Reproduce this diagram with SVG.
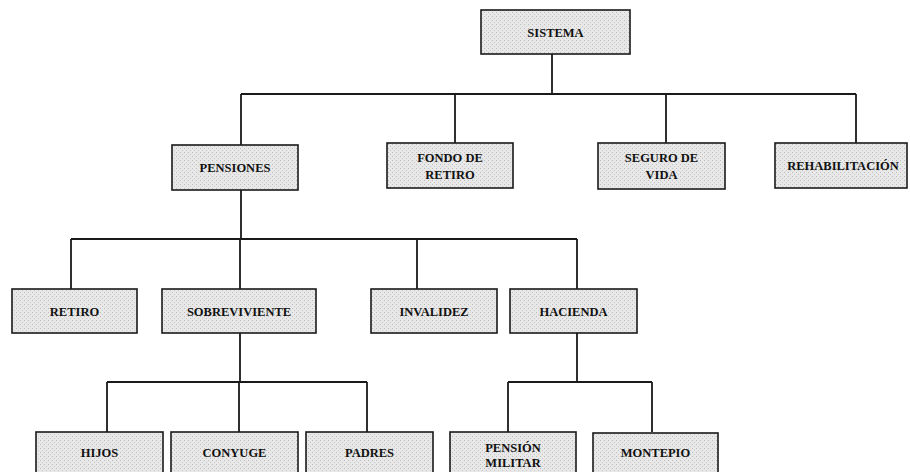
<svg xmlns="http://www.w3.org/2000/svg" width="910" height="472" viewBox="0 0 910 472">
<defs>
<pattern id="stip" width="4" height="4" patternUnits="userSpaceOnUse">
<rect width="4" height="4" fill="#e8e8e8"/>
<rect x="0" y="0" width="1" height="1" fill="#bcbcbc"/>
<rect x="2" y="2" width="1" height="1" fill="#c8c8c8"/>
</pattern>
</defs>
<style>
.box{fill:url(#stip);stroke:#1a1a1a;stroke-width:1.6}
.lbl{font-family:"Liberation Serif","Times New Roman",serif;font-weight:bold;font-size:12.5px;fill:#111;text-anchor:middle}
.conn{fill:none;stroke:#1a1a1a;stroke-width:1.8}
</style>
<rect width="910" height="472" fill="#ffffff"/>
<g id="connectors">
<path class="conn" d="M552 54V94M241 94H856M241 94V145M455 94V143M666 94V143M856 94V143"/>
<path class="conn" d="M241 190V239M71 239H577M71 239V289M240 239V289M417 239V289M577 239V289"/>
<path class="conn" d="M240 333V382M107 382H367M107 382V432M239 382V432M367 382V432"/>
<path class="conn" d="M577 333V382M508 382H652M508 382V432M652 382V432"/>
</g>
<g id="sistema"><rect class="box" x="481" y="10" width="149" height="44"/><text class="lbl" x="555.5" y="37">SISTEMA</text></g>
<g id="pensiones"><rect class="box" x="172" y="145" width="126" height="45"/><text class="lbl" x="235" y="172">PENSIONES</text></g>
<g id="fondo"><rect class="box" x="387" y="143" width="126" height="45"/><text class="lbl" x="450" y="162">FONDO DE</text><text class="lbl" x="450" y="179">RETIRO</text></g>
<g id="seguro"><rect class="box" x="598" y="143" width="127" height="46"/><text class="lbl" x="661.5" y="162">SEGURO DE</text><text class="lbl" x="661.5" y="179">VIDA</text></g>
<g id="rehabilitacion"><rect class="box" x="775" y="143" width="132" height="45"/><text class="lbl" x="843" y="170">REHABILITACIÓN</text></g>
<g id="retiro"><rect class="box" x="12" y="289" width="125" height="44"/><text class="lbl" x="74.5" y="316">RETIRO</text></g>
<g id="sobreviviente"><rect class="box" x="162" y="289" width="154" height="44"/><text class="lbl" x="239" y="316">SOBREVIVIENTE</text></g>
<g id="invalidez"><rect class="box" x="371" y="289" width="126" height="44"/><text class="lbl" x="434" y="316">INVALIDEZ</text></g>
<g id="hacienda"><rect class="box" x="510" y="289" width="127" height="44"/><text class="lbl" x="573.5" y="316">HACIENDA</text></g>
<g id="hijos"><rect class="box" x="36" y="432" width="127" height="46"/><text class="lbl" x="99.5" y="457">HIJOS</text></g>
<g id="conyuge"><rect class="box" x="171" y="432" width="127" height="46"/><text class="lbl" x="234.5" y="457">CONYUGE</text></g>
<g id="padres"><rect class="box" x="306" y="432" width="127" height="46"/><text class="lbl" x="369.5" y="457">PADRES</text></g>
<g id="pension-militar"><rect class="box" x="450" y="432" width="126" height="46"/><text class="lbl" x="513" y="452">PENSIÓN</text><text class="lbl" x="513" y="467">MILITAR</text></g>
<g id="montepio"><rect class="box" x="593" y="433" width="125" height="46"/><text class="lbl" x="655.5" y="457">MONTEPIO</text></g>
</svg>
